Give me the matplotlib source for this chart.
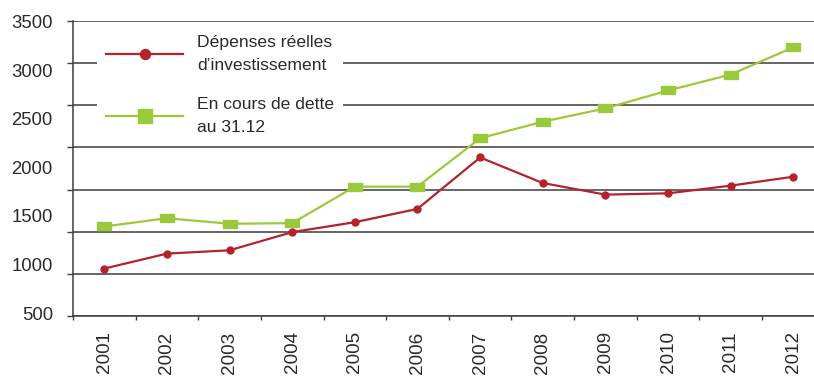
import matplotlib
matplotlib.use("Agg")
import matplotlib.pyplot as plt
from matplotlib.lines import Line2D
import numpy as np

plt.rcParams['font.family'] = ['Liberation Sans', 'DejaVu Sans']

years = ["2001", "2002", "2003", "2004", "2005", "2006",
         "2007", "2008", "2009", "2010", "2011", "2012"]
depenses = [958, 1112, 1146, 1333, 1435, 1572, 2101, 1838, 1719, 1732, 1811, 1903]
dette = [1391, 1476, 1419, 1425, 1801, 1801, 2299, 2469, 2606, 2790, 2954, 3234]
ytick_labels = [500, 1000, 1500, 2000, 2500, 3000, 3500]
label_dep = "Dépenses réelles\nd\u2019investissement"
label_dette = "En cours de dette\nau 31.12"

RED = "#B5222C"
GREEN = "#9ACA3C"
GRID = "#3c3c3c"
TXT = "#2a2a2a"

fig = plt.figure(figsize=(8.14, 3.8), dpi=100)
W, H = 814, 380
ax = fig.add_axes([73 / W, 1 - 316 / H, (824.6 - 73) / W, 295 / H])

x = np.arange(len(years))
rect = [(-1.5, -1), (1.5, -1), (1.5, 1), (-1.5, 1), (-1.5, -1)]
ax.plot(x, dette, color=GREEN, lw=1.6, marker=rect, ms=9.5, mec=GREEN, mfc=GREEN, zorder=3)
ax.plot(x, depenses, color=RED, lw=1.6, marker='o', ms=5, mec=RED, mfc=RED, zorder=4)

ymin, ymax = 470, 3505
ax.set_ylim(ymin, ymax)
ax.set_xlim(-0.5, len(years) - 0.5)

# horizontal grid: plot area divided into 7 bands
ax.set_yticks(np.linspace(ymin, ymax, 8))
ax.set_yticklabels([])
ax.set_yticks(ytick_labels, minor=True)
ax.set_yticklabels([str(v) for v in ytick_labels], minor=True)
ax.yaxis.grid(True, which='major', color=GRID, lw=1.1)
ax.tick_params(axis='y', which='major', length=4, width=1, color=GRID, direction='out')
ax.tick_params(axis='y', which='minor', length=0, pad=14.5, labelsize=13.3, labelcolor=TXT)

ax.set_xticks(np.arange(-0.5, len(years), 1.0))
ax.set_xticklabels([])
ax.set_xticks(x, minor=True)
ax.set_xticklabels(years, minor=True, rotation=90)
ax.tick_params(axis='x', which='major', length=3, width=1, color=GRID, direction='out')
ax.tick_params(axis='x', which='minor', length=0, pad=11, labelsize=13.6, labelcolor=TXT)

for s in ['top', 'right']:
    ax.spines[s].set_visible(False)
for s in ['left', 'bottom']:
    ax.spines[s].set_color(GRID)
    ax.spines[s].set_linewidth(1.1)
ax.set_axisbelow(True)

handles = [
    Line2D([], [], color=RED, lw=1.6, marker='o', ms=7.2, mec=RED, mfc=RED),
    Line2D([], [], color=GREEN, lw=1.6, marker='s', ms=10.5, mec=GREEN, mfc=GREEN),
]
fs = 12.6
fs_px = fs * 100 / 72
leg = ax.legend(handles, [label_dep, label_dette], loc='upper left',
                bbox_to_anchor=(97 / W, 1 - 26 / H), bbox_transform=fig.transFigure,
                frameon=True, facecolor='white', edgecolor='none', framealpha=1,
                prop={'size': fs}, handlelength=77 / fs_px, handletextpad=14 / fs_px,
                borderpad=9 / fs_px, borderaxespad=0, labelspacing=24 / fs_px,
                fancybox=False)
for t in leg.get_texts():
    t.set_linespacing(1.65)
    t.set_color(TXT)
leg.set_zorder(10)

fig.savefig("out.png", dpi=100, facecolor='white')
